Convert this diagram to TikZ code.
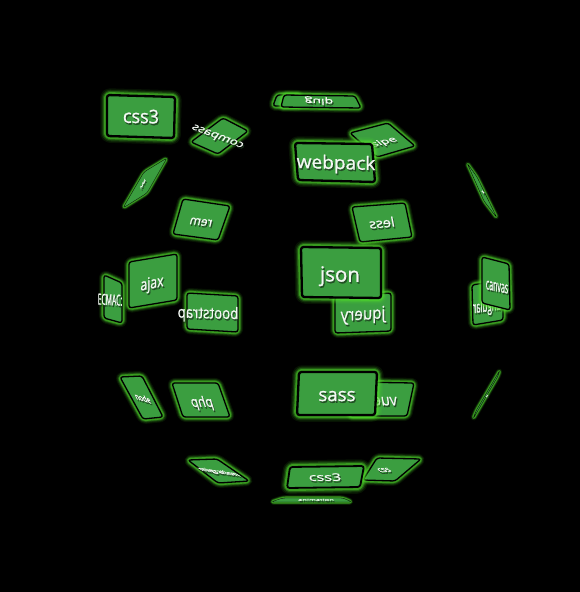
\documentclass[tikz,border=0pt]{standalone}
\usepackage{fontspec}
\setmainfont{Open Sans}
\newfontfamily\cardfont[FakeBold=0.9]{Open Sans}
\definecolor{cardgreen}{HTML}{3B9E40}
\definecolor{glowgreen}{HTML}{4FD82C}
\definecolor{shadowgrey}{HTML}{1A331C}
\definecolor{textwhite}{HTML}{F4F8F4}
\newcounter{cardno}
\tikzset{
  x=1pt,y=-1pt,
  glowa/.style={draw=glowgreen,line width=\gw*2.7pt,opacity=.09,line join=round},
  glowb/.style={draw=glowgreen,line width=\gw*2.15pt,opacity=.15,line join=round},
  glowc/.style={draw=glowgreen,line width=\gw*1.65pt,opacity=.27,line join=round},
  glowd/.style={draw=glowgreen,line width=\gw*1.2pt,opacity=.5,line join=round},
  cardface/.style={fill=cardgreen,draw=black,line width=\bw pt,rounded corners=2.5pt,line join=round},
  cardtext/.style={font=\fontsize{18}{18}\cardfont,inner sep=0pt,text height=.75em,text depth=.25em,transform shape},
}
\def\gw{5}\def\bw{1.8}
% four corners, text, then text frame: ux,uy,vx,vy,cx,cy (image pixels)
\def\placetext#1,#2,#3,#4,#5,#6;#7{%
  \pgfmathsetmacro\nuy{-(#2)}\pgfmathsetmacro\nvy{-(#4)}%
  \pgfmathsetmacro\sx{#5+1.1}\pgfmathsetmacro\sy{#6+1.7}%
  \stepcounter{cardno}%
  \begin{scope}[cm={#1,\nuy,#3,\nvy,(\sx,\sy)}]
    \node[cardtext,text=shadowgrey,opacity=.7] (s\thecardno) at (0,2.4) {#7};
  \end{scope}
  \begin{scope}[cm={#1,\nuy,#3,\nvy,(#5,#6)}]
    \node[cardtext,text=textwhite] (t\thecardno) at (0,2.4) {#7};
  \end{scope}}
\newcommand\card[6]{%
  \foreach \g in {glowa,glowb,glowc,glowd}
    \path[\g,rounded corners=3pt] (#1) -- (#2) -- (#3) -- (#4) -- cycle;
  \path[cardface] (#1) -- (#2) -- (#3) -- (#4) -- cycle;
  \placetext#6;{#5}}
\begin{document}
\begin{tikzpicture}
\fill[black] (0,0) rectangle (580,592);
\useasboundingbox (0,0) rectangle (580,592);
% edge-on cards: faint glow, hairline border
\def\gw{2.2}\def\bw{0.3}
\card{167,158}{144,172}{123,208}{147,193}{vux}{.17,-.3,.1,.2,143,184}
\card{467,163}{477,177}{497,218}{484,201}{x}{.2,.3,.1,-.1,483,192}
\card{500,370}{498,376}{473,419}{476,411}{x}{.15,-.25,.1,.1,487,396}
\card{283,498}{343,498}{352,502}{271,502}{animation}{.42,0,0,-.14,316,500}
% far side cards
\def\gw{3.8}\def\bw{1.3}
\card{277,95}{300,95}{300,106}{273,106}{}{.1,0,0,-.1,290,100}
\card{284,95}{355,96}{361,108}{281,107}{gulp}{.78,.03,.03,.45,319,101}
\card{223,118}{248,131}{218,154}{191,142}{compass}{-.68,-.26,.34,-.46,218,136}
\card{352,207}{405,203}{412,237}{360,242}{less}{-.8,.07,-.14,-.72,382,224}
\card{183,199}{230,206}{218,240}{173,234}{rem}{-.66,-.08,.18,-.68,201,222}
\card{388,123}{415,146}{377,157}{350,133}{sipe}{.7,-.18,-.38,-.36,384,142}
\card{104,275}{122,283}{122,323}{104,318}{ECMAC:}{.38,.02,0,-.85,110,301}
\card{187,293}{238,296}{238,332}{187,329}{bootstrap}{-.74,-.02,0,-.88,208,314}
\card{129,262}{177,254}{177,300}{129,308}{ajax}{.68,-.14,0,-.9,152,284}
\card{335,297}{391,293}{391,331}{335,333}{jquery}{-.84,.05,0,-.95,363,315}
\card{472,285}{503,280}{503,320}{473,325}{angular}{-.44,.06,0,-.9,487,307}
\card{482,257}{509,264}{510,310}{482,303}{canvas}{.39,.08,0,-.9,497,287}
\card{120,377}{142,376}{163,417}{143,419}{node}{.35,.1,-.25,-.5,143,399}
\card{172,383}{218,383}{230,417}{183,417}{php}{-.66,0,-.25,-.8,202,403}
\card{188,460}{217,459}{249,481}{218,483}{migration}{.48,.07,-.55,-.32,219,472}
\card{351,382}{414,383}{407,416}{350,416}{vue}{-.8,0,-.15,-.88,385,401}
\card{377,458}{421,459}{395,481}{363,480}{css}{.45,-.03,-.45,-.38,384,470}
% front cards
\def\gw{5}\def\bw{2.3}
\card{107,95}{175,97}{174,138}{107,136}{css3}{1.0,.02,0,-1.05,141,118}
\card{295,143}{372,144}{375,182}{298,180}{webpack}{1.06,.03,0,-1.02,336,164}
\card{301,247}{381,248}{381,298}{302,297}{json}{1.14,.02,0,-1.14,340,276}
\card{299,372}{377,372}{375,415}{297,415}{sass}{1.04,0,0,-1.04,337,396}
\def\bw{1.8}
\card{290,467}{364,466}{360,487}{287,488}{css3}{.9,0,-.08,-.58,325,478}
\end{tikzpicture}
\end{document}
